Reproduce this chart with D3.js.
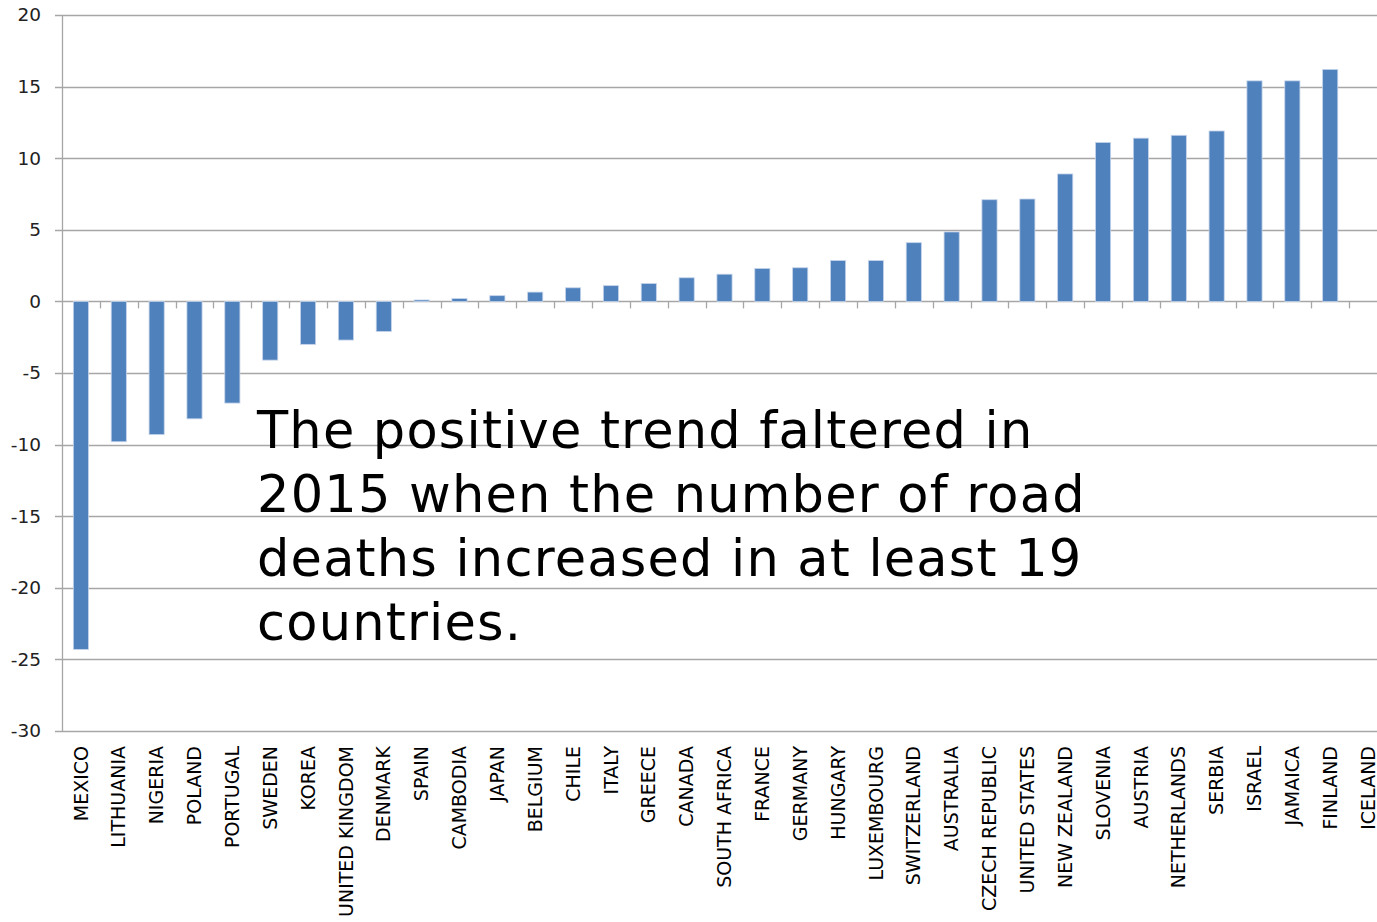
<!DOCTYPE html>
<html>
<head>
  <meta charset="UTF-8">
  <title></title>
  <style>
    body{
      margin:0;
      background:#fff;
      font-family: 'DejaVu Sans', Verdana, sans-serif;
    }
    .grid line{
      stroke:#a6a6a6;
      stroke-width:1.3;
    }
    .ylab text{
      font-size:18.5px;
      fill:#222;
    }
    .xlab text{
      font-size:19px;
      fill:#000;
    }
    .note{
      font-size:51px;
      letter-spacing:1.2px;
      fill:#000;
    }
  </style>
</head>
<body>
  <script src="https://d3js.org/d3.v7.min.js"></script>
  <script>
    var countries = ["MEXICO","LITHUANIA","NIGERIA","POLAND","PORTUGAL","SWEDEN","KOREA",
      "UNITED KINGDOM","DENMARK","SPAIN","CAMBODIA","JAPAN","BELGIUM","CHILE","ITALY",
      "GREECE","CANADA","SOUTH AFRICA","FRANCE","GERMANY","HUNGARY","LUXEMBOURG",
      "SWITZERLAND","AUSTRALIA","CZECH REPUBLIC","UNITED STATES","NEW ZEALAND","SLOVENIA",
      "AUSTRIA","NETHERLANDS","SERBIA","ISRAEL","JAMAICA","FINLAND","ICELAND"];
    var changes = [-24.3,-9.8,-9.3,-8.2,-7.1,-4.1,-3.0,-2.7,-2.1,0.1,0.2,0.4,0.65,0.95,1.1,
      1.25,1.65,1.9,2.3,2.35,2.85,2.85,4.1,4.85,7.1,7.15,8.9,11.1,11.4,11.6,11.9,15.4,
      15.4,16.2,0];
    var yTicks = [20,15,10,5,0,-5,-10,-15,-20,-25,-30];
    var noteLines = ["The positive trend faltered in","2015 when the number of road",
      "deaths increased in at least 19","countries."];

    var width = 1377, height = 922;
    var svg = d3.select("body").append("svg")
        .attr("width", width)
        .attr("height", height);

    var plotLeft = 62, plotRight = 1387, plotTop = 15, plotBottom = 731;

    var x = d3.scaleBand()
        .domain(countries)
        .range([plotLeft, plotRight])
        .paddingInner(0.6)
        .paddingOuter(0.3);
    var y = d3.scaleLinear().domain([-30, 20]).range([plotBottom, plotTop]);

    // gridlines
    svg.append("g").attr("class", "grid")
      .selectAll("line").data(yTicks).enter().append("line")
        .attr("x1", plotLeft - 7).attr("x2", width)
        .attr("y1", function(d) { return Math.round(y(d)) + 0.5; })
        .attr("y2", function(d) { return Math.round(y(d)) + 0.5; });

    svg.append("line")
      .attr("x1", plotLeft + 0.5).attr("x2", plotLeft + 0.5)
      .attr("y1", plotTop).attr("y2", plotBottom)
      .attr("stroke", "#a6a6a6").attr("stroke-width", 1.3);

    // category ticks on the zero line
    var step = x.step();
    svg.append("g").selectAll("line")
      .data(countries.slice(1)).enter().append("line")
        .attr("x1", function(d) { return Math.round(x(d) - step * 0.3) + 0.5; })
        .attr("x2", function(d) { return Math.round(x(d) - step * 0.3) + 0.5; })
        .attr("y1", y(0)).attr("y2", y(0) + 7)
        .attr("stroke", "#a6a6a6").attr("stroke-width", 1.3);

    svg.append("g").attr("class", "ylab")
      .selectAll("text").data(yTicks).enter().append("text")
        .attr("x", 41)
        .attr("y", function(d) { return y(d); })
        .attr("dy", "0.35em")
        .attr("text-anchor", "end")
        .text(function(d) { return d; });

    var data = countries.map(function(c, i) { return {name: c, value: changes[i]}; });

    svg.append("g").selectAll("rect").data(data).enter().append("rect")
        .attr("x", function(d) { return x(d.name); })
        .attr("width", x.bandwidth())
        .attr("y", function(d) { return y(Math.max(0, d.value)); })
        .attr("height", function(d) { return Math.abs(y(d.value) - y(0)); })
        .attr("fill", "#4f81bd")
        .attr("stroke", "#c5d4ea")
        .attr("stroke-width", 0.8);

    svg.append("g").attr("class", "xlab")
      .selectAll("text").data(countries).enter().append("text")
        .attr("transform", function(d) {
          return "translate(" + (x(d) + x.bandwidth() / 2) + "," + 746 + ") rotate(-90)";
        })
        .attr("dy", "0.35em")
        .attr("text-anchor", "end")
        .text(function(d) { return d; });

    svg.append("g").selectAll("text").data(noteLines).enter().append("text")
        .attr("class", "note")
        .attr("x", 257)
        .attr("y", function(d, i) { return 448 + i * 64; })
        .text(function(d) { return d; });
  </script>
</body>
</html>
